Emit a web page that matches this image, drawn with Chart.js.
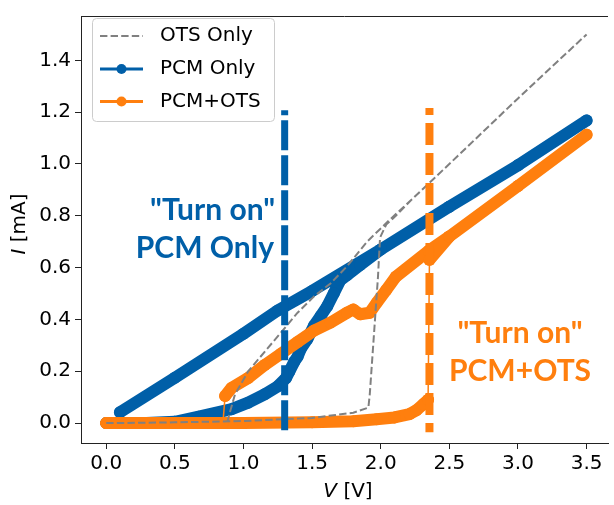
<!DOCTYPE html>
<html>
<head>
<meta charset="utf-8">
<script src="https://cdn.jsdelivr.net/npm/chart.js@4.4.0/dist/chart.umd.min.js"></script>
<style>
    html, body { margin: 0; padding: 0; background: #fff; }
</style>
</head>
<body>
<canvas id="grafico" width="614" height="505"></canvas>
<script>
// dados (V em volts, I em mA)
var ots_v = [0, 0.5, 1.0, 1.5, 1.8, 1.91, 1.92, 1.98, 1.995, 2.04, 2.11, 2.22, 2.51, 3.0, 3.5,
    3.0, 2.51, 2.22, 2.066, 1.9, 1.754, 1.634, 1.514, 1.394, 1.274, 1.154, 1.034, 0.938, 0.9, 0.88];
var ots_i = [0, 0.003, 0.008, 0.02, 0.04, 0.06, 0.11, 0.565, 0.716, 0.766, 0.8, 0.86, 1.005, 1.253, 1.5,
    1.253, 1.005, 0.86, 0.785, 0.70, 0.605, 0.539, 0.489, 0.426, 0.35, 0.275, 0.2, 0.111, 0.04, 0.0];

var pcm_v = [0, 0.25, 0.5, 0.674, 0.914, 1.034, 1.154, 1.25, 1.31, 1.334, 1.37, 1.394, 1.418, 1.466,
    1.514, 1.562, 1.61, 1.658, 1.706, 1.754, 1.85, 2.0, 2.5, 3.0, 3.5,
    3.0, 2.5, 2.0, 1.5, 1.25, 1.0, 0.5, 0.1];
var pcm_i = [0, 0, 0.005, 0.025, 0.054, 0.079, 0.111, 0.142, 0.174, 0.199, 0.237, 0.256, 0.287, 0.325,
    0.376, 0.413, 0.451, 0.501, 0.552, 0.571, 0.61, 0.67, 0.835, 0.995, 1.168,
    0.995, 0.835, 0.67, 0.51, 0.435, 0.345, 0.175, 0.042];

var pcm_ots_v = [0, 0.5, 1.0, 1.5, 1.8, 1.97, 2.1, 2.21, 2.26, 2.31, 2.345, 2.355, 2.5, 3.0, 3.5,
    3.0, 2.5, 2.35, 2.11, 2.04, 1.97, 1.92, 1.85, 1.80, 1.754, 1.634, 1.514, 1.394, 1.274, 1.154,
    1.034, 0.913, 0.866, 0.85, 0.5, 0];
var pcm_ots_i = [0, 0, 0, 0.003, 0.007, 0.015, 0.022, 0.035, 0.05, 0.073, 0.09, 0.63, 0.72, 0.915, 1.113,
    0.915, 0.72, 0.665, 0.565, 0.514, 0.464, 0.426, 0.42, 0.438, 0.426, 0.388, 0.357, 0.313, 0.268, 0.224,
    0.174, 0.136, 0.105, 0.0, 0.0, 0];

// linhas verticais "Turn on"
var turnon_pcm_v = [1.3, 1.3];
var turnon_pcm_i = [1.207, -0.045];
var turnon_pcmots_v = [2.355, 2.355];
var turnon_pcmots_i = [1.216, -0.035];

var x_ticks = [0, 0.5, 1.0, 1.5, 2.0, 2.5, 3.0, 3.5];
var y_ticks = [0, 0.2, 0.4, 0.6, 0.8, 1.0, 1.2, 1.4];

var nomes = ['OTS Only', 'PCM Only', 'PCM+OTS'];

var AZUL = '#005fa8';
var LARANJA = '#ff7f0e';
var CINZA = '#808080';

function pontos(vs, is) {
    return vs.map(function (v, k) { return { x: v, y: is[k] }; });
}

function salto(c) {
    return Math.abs(c.p1.y - c.p0.y) > 20 && Math.abs(c.p1.x - c.p0.x) < 6;
}

Chart.defaults.font.family = 'DejaVu Sans';
Chart.defaults.color = '#000';

// legenda, textos e moldura desenhados a mao
var extras = {
    id: 'extras',
    afterDatasetsDraw: function (chart) {
        var ctx = chart.ctx;
        var a = chart.chartArea;
        ctx.save();

        // moldura de cima
        ctx.strokeStyle = '#222';
        ctx.lineWidth = 1;
        ctx.beginPath();
        ctx.moveTo(a.left, a.top + 0.5);
        ctx.lineTo(a.right, a.top + 0.5);
        ctx.stroke();

        // textos "Turn on"
        ctx.font = 'bold 30px Lato';
        ctx.textBaseline = 'alphabetic';
        ctx.fillStyle = AZUL;
        ctx.textAlign = 'right';
        ctx.fillText('"Turn on"', 275, 220);
        ctx.fillText('PCM Only', 274, 257.5);
        ctx.fillStyle = LARANJA;
        ctx.textAlign = 'center';
        ctx.fillText('"Turn on"', 520, 343.3);
        ctx.fillText('PCM+OTS', 520, 380.7);

        // legenda
        ctx.fillStyle = 'rgba(255,255,255,0.85)';
        ctx.strokeStyle = '#cccccc';
        ctx.lineWidth = 1;
        ctx.beginPath();
        ctx.roundRect(92.5, 18.5, 182, 103, 4);
        ctx.fill();
        ctx.stroke();

        var linhas_y = [36, 69, 101.5];
        var cores = [CINZA, AZUL, LARANJA];
        for (var k = 0; k < 3; k++) {
            var y = linhas_y[k];
            ctx.strokeStyle = cores[k];
            if (k == 0) {
                ctx.lineWidth = 2;
                ctx.setLineDash([7.4, 3.2]);
            } else {
                ctx.lineWidth = 3;
                ctx.setLineDash([]);
            }
            ctx.beginPath();
            ctx.moveTo(100, y);
            ctx.lineTo(143, y);
            ctx.stroke();
            ctx.setLineDash([]);
            if (k > 0) {
                ctx.fillStyle = cores[k];
                ctx.beginPath();
                ctx.arc(121.5, y, 5, 0, Math.PI * 2);
                ctx.fill();
            }
            ctx.fillStyle = '#000';
            ctx.font = '20px "DejaVu Sans"';
            ctx.textAlign = 'left';
            ctx.textBaseline = 'middle';
            ctx.fillText(nomes[k], 160, y);
        }

        // titulos dos eixos
        ctx.fillStyle = '#000';
        ctx.textBaseline = 'alphabetic';
        ctx.textAlign = 'left';
        var fi = 'italic 20px "DejaVu Sans"';
        var fn = '20px "DejaVu Sans"';
        ctx.font = fi;
        var wV = ctx.measureText('V').width;
        ctx.font = fn;
        var wR = ctx.measureText(' [V]').width;
        var x0 = 348 - (wV + wR) / 2;
        ctx.font = fi;
        ctx.fillText('V', x0, 497);
        ctx.font = fn;
        ctx.fillText(' [V]', x0 + wV, 497);

        ctx.translate(25, 224);
        ctx.rotate(-Math.PI / 2);
        ctx.font = fi;
        var wI = ctx.measureText('I').width;
        ctx.font = fn;
        var wM = ctx.measureText(' [mA]').width;
        var y0 = -(wI + wM) / 2;
        ctx.font = fi;
        ctx.fillText('I', y0, 0);
        ctx.font = fn;
        ctx.fillText(' [mA]', y0 + wI, 0);

        ctx.restore();
    }
};

var ctx = document.getElementById('grafico');

new Chart(ctx, {
    type: 'scatter',
    data: {
        datasets: [{
            label: 'turn on PCM',
            data: pontos(turnon_pcm_v, turnon_pcm_i),
            showLine: true,
            borderColor: AZUL,
            borderWidth: 7,
            borderDash: [30, 5],
            borderDashOffset: 25,
            borderCapStyle: 'butt',
            pointRadius: 0,
            order: 0
        }, {
            label: 'turn on PCM+OTS',
            data: pontos(turnon_pcmots_v, turnon_pcmots_i),
            showLine: true,
            borderColor: LARANJA,
            borderWidth: 8,
            borderDash: [22, 8],
            borderDashOffset: 15,
            borderCapStyle: 'butt',
            pointRadius: 0,
            order: 1
        }, {
            label: nomes[0],
            data: pontos(ots_v, ots_i),
            showLine: true,
            borderColor: CINZA,
            borderWidth: 2,
            borderDash: [7.4, 3.2],
            pointRadius: 0,
            order: 2
        }, {
            label: nomes[2],
            data: pontos(pcm_ots_v, pcm_ots_i),
            showLine: true,
            borderColor: LARANJA,
            backgroundColor: LARANJA,
            borderWidth: 12,
            borderCapStyle: 'round',
            borderJoinStyle: 'round',
            pointRadius: 6,
            pointBorderWidth: 0,
            segment: {
                borderWidth: function (c) { return salto(c) ? 1.5 : 12; }
            },
            order: 3
        }, {
            label: nomes[1],
            data: pontos(pcm_v, pcm_i),
            showLine: true,
            borderColor: AZUL,
            backgroundColor: AZUL,
            borderWidth: 12,
            borderCapStyle: 'round',
            borderJoinStyle: 'round',
            pointRadius: 6,
            pointBorderWidth: 0,
            segment: {
                borderWidth: function (c) { return salto(c) ? 1.5 : 12; }
            },
            order: 4
        }]
    },
    options: {
        responsive: false,
        animation: false,
        layout: {
            padding: { top: 7, right: 0, left: 0, bottom: 0 }
        },
        plugins: {
            legend: { display: false },
            tooltip: { enabled: false }
        },
        scales: {
            x: {
                type: 'linear',
                min: -0.184,
                max: 3.656,
                afterBuildTicks: function (s) {
                    s.ticks = x_ticks.map(function (v) { return { value: v }; });
                },
                afterFit: function (s) { s.height = 62; },
                grid: {
                    drawOnChartArea: false,
                    tickLength: 6,
                    tickColor: '#222',
                    tickWidth: 1
                },
                border: { color: '#222', width: 1 },
                ticks: {
                    font: { size: 20 },
                    color: '#000',
                    padding: 3,
                    maxRotation: 0,
                    autoSkip: false,
                    callback: function (v) { return Number(v).toFixed(1); }
                }
            },
            y: {
                type: 'linear',
                min: -0.0767,
                max: 1.571,
                afterBuildTicks: function (s) {
                    s.ticks = y_ticks.map(function (v) { return { value: v }; });
                },
                afterFit: function (s) { s.width = 81; },
                grid: {
                    drawOnChartArea: false,
                    tickLength: 6,
                    tickColor: '#222',
                    tickWidth: 1
                },
                border: { color: '#222', width: 1 },
                ticks: {
                    font: { size: 20 },
                    color: '#000',
                    padding: 4,
                    autoSkip: false,
                    callback: function (v) { return Number(v).toFixed(1); }
                }
            }
        }
    },
    plugins: [extras]
});
</script>
</body>
</html>
